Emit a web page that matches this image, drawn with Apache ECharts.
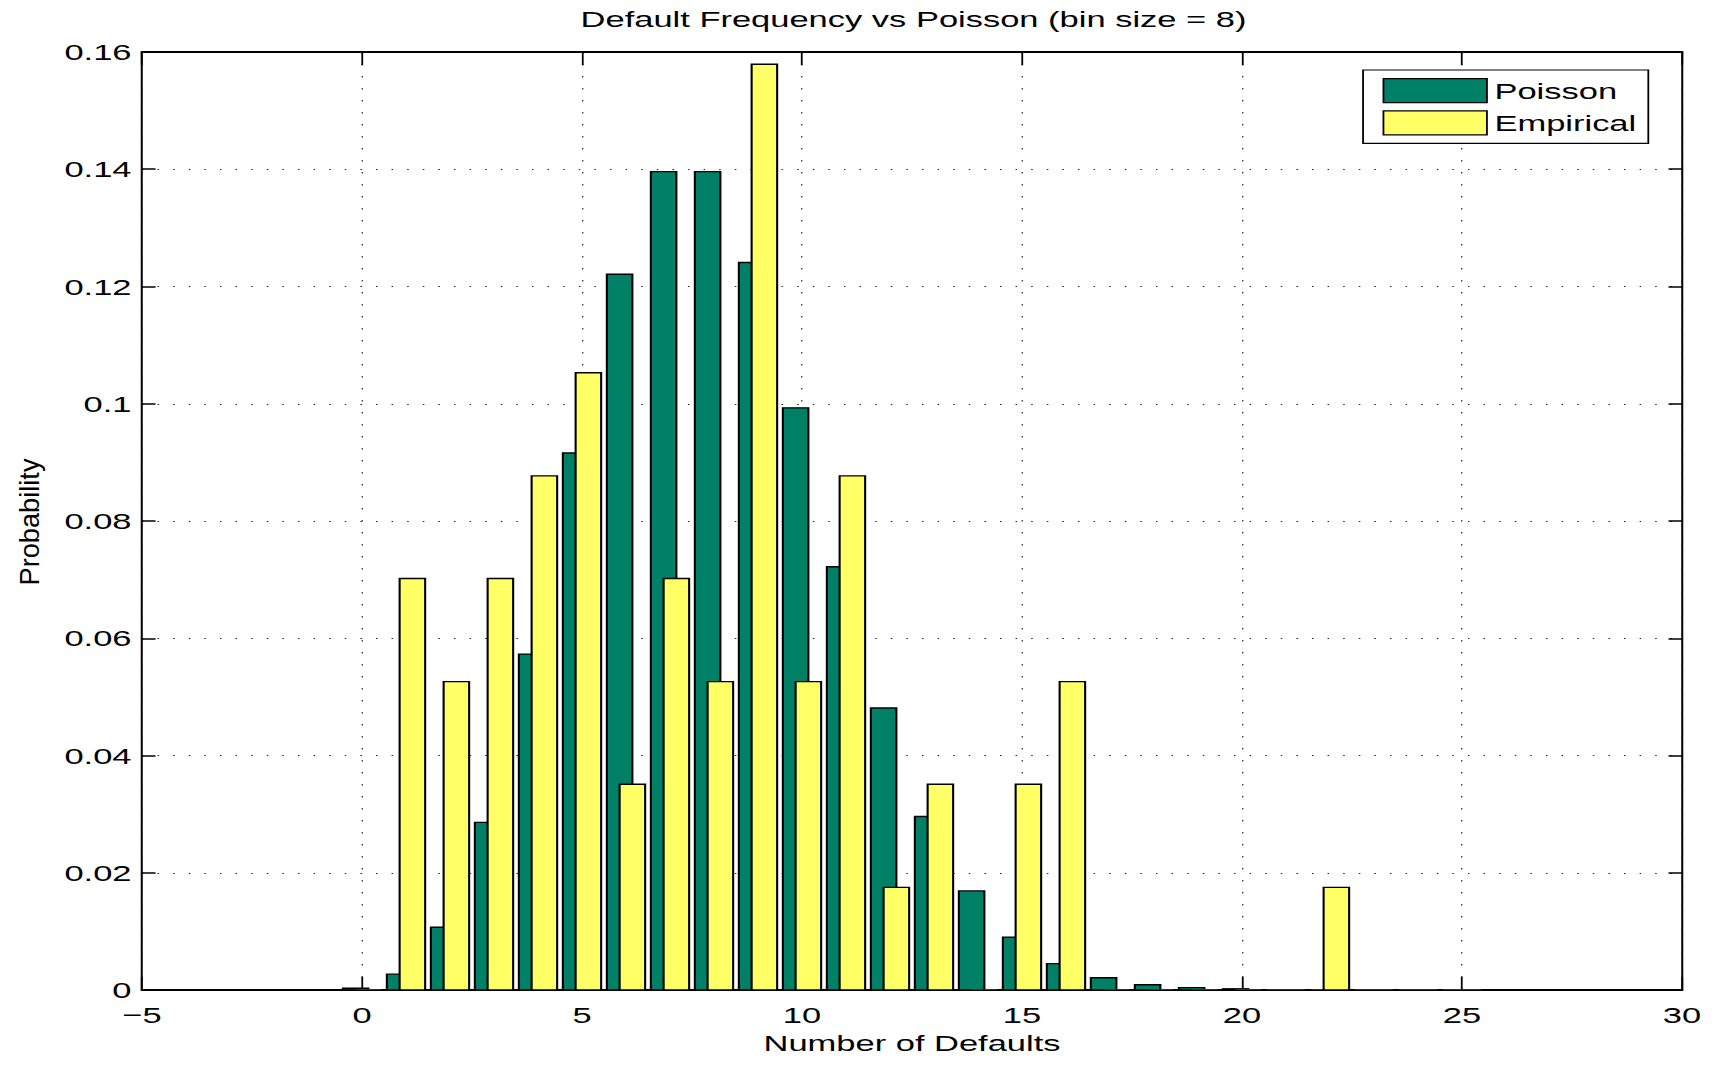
<!DOCTYPE html>
<html>
<head>
<meta charset="utf-8">
<script src="https://cdn.jsdelivr.net/npm/echarts@6/dist/echarts.min.js"></script>
<style>
  html, body { margin: 0; padding: 0; background: #fff; overflow: hidden; }
  #chart { width: 1143.33px; height: 1065px; transform: scaleX(1.5); transform-origin: 0 0; }
</style>
</head>
<body>
<div id="chart"></div>
<script>
// ---- data ----
const xValues = [0,1,2,3,4,5,6,7,8,9,10,11,12,13,14,15,16,17,18,19,20,21,22,23,24,25];
const poisson = [0.0003,0.0027,0.0107,0.0286,0.0573,0.0916,0.1221,0.1396,0.1396,0.1241,0.0993,0.0722,0.0481,0.0296,0.0169,0.0090,0.0045,0.0021,0.0009,0.0004,0.0002,0.0001,0,0,0,0];
const empirical = [0,0.0702,0.0526,0.0702,0.0877,0.1053,0.0351,0.0702,0.0526,0.1579,0.0526,0.0877,0.0175,0.0351,0,0.0351,0.0526,0,0,0,0,0,0.0175,0,0,0];
const xTickLabels = ['\u22125','0','5','10','15','20','25','30'];
const yTickLabels = ['0','0.02','0.04','0.06','0.08','0.1','0.12','0.14','0.16'];
const seriesNames = ['Poisson','Empirical'];

// ---- styling constants ----
const FONT = "'Liberation Sans', Arial, Helvetica, sans-serif";
const BAR_W = 0.58;
const OFFSETS = [-0.145, 0.145];
const COLORS = ['#008066', '#ffff66'];

function makeRender(offset) {
  return function (params, api) {
    const x = api.value(0), y = api.value(1);
    const p1 = api.coord([x + offset - BAR_W / 2, y]);
    const p2 = api.coord([x + offset + BAR_W / 2, 0]);
    const h = p2[1] - p1[1];
    if (h < 0.6) {
      return { type: 'line', shape: { x1: p1[0], y1: p2[1] - 0.5, x2: p2[0], y2: p2[1] - 0.5 },
               style: { stroke: '#333', lineWidth: 1 } };
    }
    return {
      type: 'rect',
      shape: { x: p1[0], y: p1[1], width: p2[0] - p1[0], height: h },
      style: { fill: api.visual('color'), stroke: '#000', lineWidth: 1.4 }
    };
  };
}

const chart = echarts.init(document.getElementById('chart'), null, { renderer: 'svg', width: 1143.33, height: 1065 });

const xCommon = { type: 'value', min: -5, max: 30, interval: 5 };
const yCommon = { type: 'value', min: 0, max: 0.16, interval: 0.02 };

chart.setOption({
  animation: false,
  backgroundColor: '#fff',
  title: {
    text: 'Default Frequency vs Poisson (bin size = 8)',
    left: 609, textAlign: 'center', top: 7, padding: 0,
    textStyle: { fontFamily: FONT, fontSize: 23, fontWeight: 'normal', color: '#000' }
  },
  grid: { left: 94.67, right: 22, top: 52, bottom: 75, containLabel: false },
  legend: {
    orient: 'vertical', left: 908.7, top: 70,
    padding: [8, 8, 8, 13], itemGap: 7, itemWidth: 69, itemHeight: 24,
    backgroundColor: '#fff', borderColor: '#000', borderWidth: 1.2,
    textStyle: { fontFamily: FONT, fontSize: 23, color: '#000', padding: [0, 0, 0, 0] },
    data: seriesNames.map(function (n) { return { name: n, icon: 'rect', itemStyle: { borderColor: '#000', borderWidth: 1.2 } }; })
  },
  xAxis: [
    Object.assign({}, xCommon, {
      position: 'bottom',
      name: 'Number of Defaults', nameLocation: 'middle', nameGap: 41,
      nameTextStyle: { fontFamily: FONT, fontSize: 23, color: '#000' },
      axisLine: { show: true, onZero: false, lineStyle: { color: '#000', width: 2 } },
      axisTick: { show: true, inside: true, length: 13, lineStyle: { color: '#000', width: 1.2 } },
      axisLabel: { fontFamily: FONT, fontSize: 23, color: '#000', margin: 13,
                   formatter: function (v, i) { return xTickLabels[i]; } },
      splitLine: { show: true, lineStyle: { color: '#222', width: 0.8, type: [1.5, 10.5] } }
    }),
    Object.assign({}, xCommon, {
      position: 'top',
      axisLine: { show: true, onZero: false, lineStyle: { color: '#000', width: 2 } },
      axisTick: { show: true, inside: true, length: 13, lineStyle: { color: '#000', width: 1.2 } },
      axisLabel: { show: false }, splitLine: { show: false }
    })
  ],
  yAxis: [
    Object.assign({}, yCommon, {
      position: 'left',
      axisLine: { show: true, onZero: false, lineStyle: { color: '#000', width: 1.35 } },
      axisTick: { show: true, inside: true, length: 9, lineStyle: { color: '#000', width: 1.5 } },
      axisLabel: { fontFamily: FONT, fontSize: 23, color: '#000', margin: 7,
                   formatter: function (v, i) { return yTickLabels[i]; } },
      splitLine: { show: true, lineStyle: { color: '#222', width: 1, type: [1, 9.4] } }
    }),
    Object.assign({}, yCommon, {
      position: 'right',
      axisLine: { show: true, onZero: false, lineStyle: { color: '#000', width: 1.35 } },
      axisTick: { show: true, inside: true, length: 9, lineStyle: { color: '#000', width: 1.5 } },
      axisLabel: { show: false }, splitLine: { show: false }
    })
  ],
  graphic: [{
    type: 'text', x: 19.5, y: 522, rotation: Math.PI / 2, scaleX: 1.36, scaleY: 0.9,
    style: { text: 'Probability', font: '20px ' + FONT, fill: '#000',
             textAlign: 'center', textVerticalAlign: 'middle', align: 'center', verticalAlign: 'middle' }
  }],
  series: [
    { name: seriesNames[0], type: 'custom', xAxisIndex: 0, yAxisIndex: 0,
      itemStyle: { color: COLORS[0] }, renderItem: makeRender(OFFSETS[0]),
      data: xValues.map(function (x, i) { return [x, poisson[i]]; }), z: 2 },
    { name: seriesNames[1], type: 'custom', xAxisIndex: 0, yAxisIndex: 0,
      itemStyle: { color: COLORS[1] }, renderItem: makeRender(OFFSETS[1]),
      data: xValues.map(function (x, i) { return [x, empirical[i]]; }), z: 3 }
  ]
});
</script>
</body>
</html>
